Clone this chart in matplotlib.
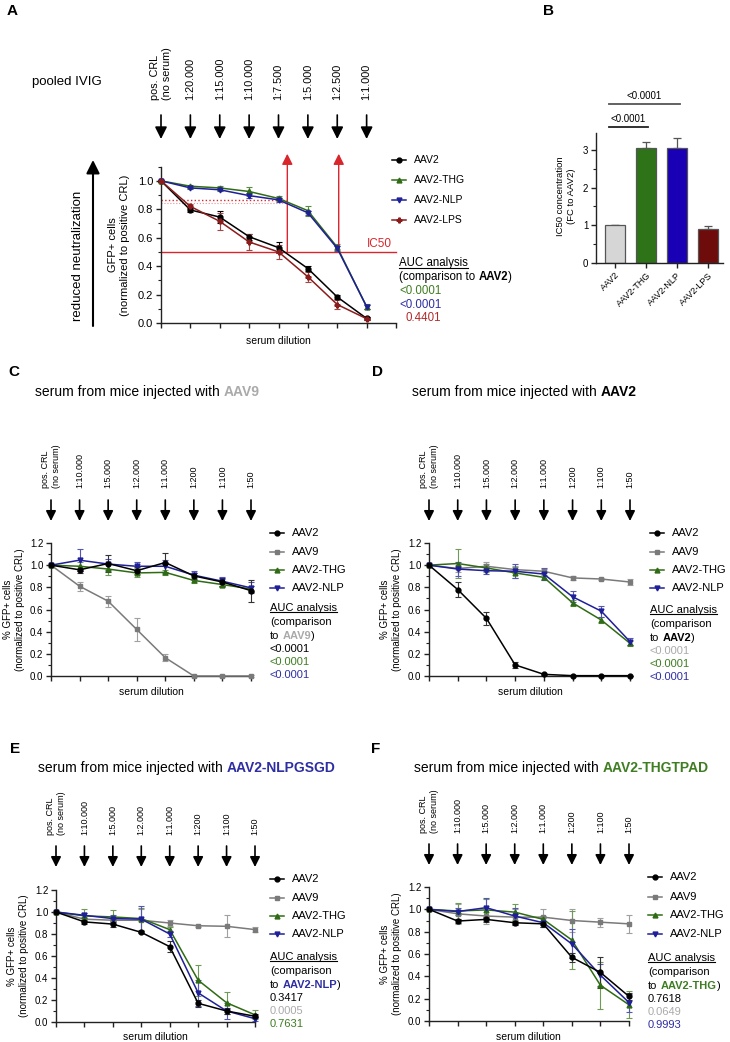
import matplotlib.pyplot as plt
import numpy as np
from matplotlib import transforms
from matplotlib.lines import Line2D
from matplotlib.text import Annotation
from matplotlib.ticker import MultipleLocator, FormatStrFormatter

plt.rcParams['font.family'] = ['Liberation Sans', 'DejaVu Sans']

W, H = 730, 1042

# ---------------- data ----------------
# panel A: pooled IVIG
dil_A = ["pos. CRL\n(no serum)", "1:20.000", "1:15.000", "1:10.000",
         "1:7.500", "1:5.000", "1:2.500", "1:1.000"]
A_AAV2 = [1.0, 0.795, 0.745, 0.607, 0.53, 0.383, 0.183, 0.032]
A_AAV2_err = [0.005, 0.012, 0.04, 0.02, 0.04, 0.02, 0.015, 0.008]
A_THG = [1.0, 0.962, 0.95, 0.925, 0.876, 0.79, 0.533, 0.115]
A_THG_err = [0.005, 0.01, 0.015, 0.03, 0.015, 0.035, 0.02, 0.02]
A_NLP = [1.0, 0.95, 0.937, 0.896, 0.866, 0.775, 0.525, 0.115]
A_NLP_err = [0.005, 0.01, 0.01, 0.015, 0.015, 0.015, 0.02, 0.015]
A_LPS = [1.0, 0.82, 0.715, 0.57, 0.50, 0.325, 0.13, 0.03]
A_LPS_err = [0.005, 0.02, 0.06, 0.055, 0.05, 0.035, 0.035, 0.01]
ic50 = 0.5
ic50_x = [4.3, 6.05]
ic50_ref = [0.868, 0.845]
A_auc = ["<0.0001", "<0.0001", "0.4401"]

# panel B: IC50 fold change
B_names = ["AAV2", "AAV2-THG", "AAV2-NLP", "AAV2-LPS"]
B_vals = [1.0, 3.05, 3.05, 0.91]
B_err = [0.0, 0.17, 0.27, 0.08]
B_p = ["<0.0001", "<0.0001"]

# panels C-F: mouse sera
dil_mice = ["pos. CRL\n(no serum)", "1:10.000", "1:5.000", "1:2.000",
            "1:1.000", "1:200", "1:100", "1:50"]

C_AAV2 = [1.0, 0.958, 1.015, 0.95, 1.024, 0.903, 0.848, 0.77]
C_AAV2_err = [0, 0.03, 0.08, 0.03, 0.09, 0.03, 0.04, 0.1]
C_AAV9 = [1.0, 0.81, 0.675, 0.42, 0.165, 0.0, 0.0, 0.0]
C_AAV9_err = [0, 0.04, 0.05, 0.1, 0.03, 0.005, 0.005, 0.005]
C_THG = [1.0, 0.99, 0.965, 0.93, 0.935, 0.862, 0.825, 0.785]
C_THG_err = [0, 0.04, 0.05, 0.04, 0.02, 0.02, 0.02, 0.03]
C_NLP = [1.0, 1.045, 1.01, 0.99, 0.99, 0.91, 0.855, 0.795]
C_NLP_err = [0, 0.1, 0.05, 0.04, 0.06, 0.04, 0.04, 0.05]
C_auc = ["<0.0001", "<0.0001", "<0.0001"]

D_AAV2 = [1.0, 0.78, 0.52, 0.10, 0.015, 0.003, 0.003, 0.003]
D_AAV2_err = [0, 0.065, 0.06, 0.025, 0.005, 0, 0, 0]
D_AAV9 = [1.0, 0.97, 0.99, 0.96, 0.945, 0.885, 0.875, 0.848]
D_AAV9_err = [0, 0.03, 0.04, 0.03, 0.02, 0.02, 0.01, 0.03]
D_THG = [1.0, 1.015, 0.975, 0.93, 0.89, 0.66, 0.505, 0.295]
D_THG_err = [0, 0.13, 0.04, 0.05, 0.02, 0.03, 0.03, 0.02]
D_NLP = [1.0, 0.965, 0.95, 0.945, 0.92, 0.715, 0.585, 0.31]
D_NLP_err = [0, 0.06, 0.03, 0.065, 0.05, 0.05, 0.05, 0.03]
D_auc = ["<0.0001", "<0.0001", "<0.0001"]

E_AAV2 = [1.0, 0.91, 0.89, 0.815, 0.685, 0.17, 0.10, 0.052]
E_AAV2_err = [0, 0.02, 0.03, 0.01, 0.05, 0.03, 0.03, 0.02]
E_AAV9 = [1.0, 0.935, 0.925, 0.925, 0.90, 0.875, 0.87, 0.84]
E_AAV9_err = [0, 0.02, 0.02, 0.1, 0.03, 0.01, 0.1, 0.02]
E_THG = [1.0, 0.965, 0.955, 0.94, 0.84, 0.38, 0.175, 0.065]
E_THG_err = [0, 0.06, 0.06, 0.1, 0.02, 0.14, 0.1, 0.04]
E_NLP = [1.0, 0.97, 0.94, 0.935, 0.80, 0.265, 0.10, 0.03]
E_NLP_err = [0, 0.02, 0.03, 0.12, 0.03, 0.12, 0.07, 0.02]
E_auc = ["0.3417", "0.0005", "0.7631"]

F_AAV2 = [1.0, 0.895, 0.91, 0.88, 0.87, 0.57, 0.435, 0.22]
F_AAV2_err = [0, 0.02, 0.02, 0.02, 0.03, 0.04, 0.14, 0.03]
F_AAV9 = [1.0, 0.96, 0.94, 0.93, 0.93, 0.90, 0.885, 0.87]
F_AAV9_err = [0, 0.09, 0.07, 0.07, 0.07, 0.1, 0.04, 0.08]
F_THG = [1.0, 0.985, 0.995, 0.975, 0.91, 0.725, 0.32, 0.145]
F_THG_err = [0, 0.07, 0.1, 0.07, 0.03, 0.26, 0.21, 0.12]
F_NLP = [1.0, 0.98, 1.015, 0.94, 0.88, 0.69, 0.41, 0.165]
F_NLP_err = [0, 0.03, 0.09, 0.07, 0.04, 0.13, 0.1, 0.08]
F_auc = ["0.7618", "0.0649", "0.9993"]

# colours
K = 'black'
GRAY = '#7a7a7a'
GREEN = '#2f6b14'
BLUE = '#1f1f99'
RED = '#8a1c1c'
ARED = '#d8262c'
T_GRAY = '#aaaaaa'
T_GREEN = '#3f7d22'
T_BLUE = '#2e2ea3'
T_RED = '#b22a2a'

fig = plt.figure(figsize=(W / 100, H / 100), dpi=100)


def fx(x):
    return x / W


def fy(y):
    return 1 - y / H


def px_ax(x0, y0, x1, y1):
    return fig.add_axes([fx(x0), fy(y1), (x1 - x0) / W, (y1 - y0) / H])


def style(ax, ymax, major, minor, fs, fmt='%.1f'):
    for s in ['top', 'right']:
        ax.spines[s].set_visible(False)
    for s in ['left', 'bottom']:
        ax.spines[s].set_linewidth(1.0)
        ax.spines[s].set_color('#222222')
    ax.set_ylim(0, ymax)
    ax.yaxis.set_major_locator(MultipleLocator(major))
    ax.yaxis.set_minor_locator(MultipleLocator(minor))
    ax.yaxis.set_major_formatter(FormatStrFormatter(fmt))
    ax.tick_params(axis='both', which='major', length=3.5, width=1.0,
                   labelsize=fs, pad=2, color='#222222')
    ax.tick_params(axis='y', which='minor', length=2, width=0.8, color='#222222')
    ax.patch.set_alpha(0)


def curves(ax, series):
    for y, e, c, m, ec in series:
        ax.errorbar(range(len(y)), y, yerr=e, color=c, marker=m, ms=3.5, lw=1.1,
                    elinewidth=0.8, ecolor=ec, capsize=2.2, capthick=0.8,
                    clip_on=False, zorder=3)


def header(ax, labels, ytxt, ya0, ya1, fs, ms=16):
    tr = transforms.blended_transform_factory(ax.transData, fig.transFigure)
    for i, lab in enumerate(labels):
        ax.text(i, fy(ytxt), lab, transform=tr, rotation=90, ha='center',
                va='bottom', fontsize=fs, multialignment='left', clip_on=False)
        ax.annotate('', xy=(i, fy(ya1)), xytext=(i, fy(ya0)), xycoords=tr,
                    textcoords=tr, annotation_clip=False,
                    arrowprops=dict(arrowstyle='-|>', color='k', lw=1.2,
                                    mutation_scale=ms, shrinkA=0, shrinkB=0))


def legend(x0, ys, entries, fs):
    for y, (lab, c, m) in zip(ys, entries):
        fig.add_artist(Line2D([fx(x0), fx(x0 + 14)], [fy(y), fy(y)], color=c, lw=1.1))
        fig.add_artist(Line2D([fx(x0 + 7)], [fy(y)], color=c, marker=m, ms=3.5, ls='none'))
        fig.text(fx(x0 + 22), fy(y), lab, fontsize=fs, va='center', ha='left')


def rich(x, y, parts, fs):
    s, c, w = parts[0]
    t = fig.text(fx(x), fy(y), s, color=c, fontweight=w, fontsize=fs, va='center', ha='left')
    first = t
    for s, c, w in parts[1:]:
        dx = 0.28 * fs if s.startswith(' ') else 0
        t = Annotation(s.lstrip(), xy=(1, 0), xycoords=t, xytext=(dx, 0),
                       textcoords='offset points', va='bottom', ha='left',
                       color=c, fontweight=w, fontsize=fs)
        fig.add_artist(t)
    return first


underlined = []

# ---------------- panel A ----------------
fig.text(fx(7), fy(11), "A", fontsize=11, fontweight='bold', va='center')
fig.text(fx(32), fy(82), "pooled IVIG", fontsize=9.5, va='center')
axA = px_ax(161, 166.6, 396, 323)
style(axA, 1.1, 0.2, 0.1, 8)
axA.set_xlim(0, 8)
axA.set_xticks(range(9))
axA.set_xticklabels([])
curves(axA, [(A_AAV2, A_AAV2_err, K, 'o', K),
             (A_THG, A_THG_err, GREEN, '^', '#5b8a45'),
             (A_NLP, A_NLP_err, BLUE, 'v', '#4d4db0'),
             (A_LPS, A_LPS_err, RED, 'P', '#a04848')])
axA.plot([0, 8], [ic50, ic50], color=ARED, lw=1.0, zorder=2, clip_on=False)
axA.plot([0, ic50_x[0]], [ic50_ref[0]] * 2, color=ARED, lw=1.0, ls=':', zorder=2)
axA.plot([0, ic50_x[0]], [ic50_ref[1]] * 2, color='#e89090', lw=0.8, ls=':', zorder=2)
for xv in ic50_x:
    axA.annotate('', xy=(xv, 1.19), xytext=(xv, ic50), annotation_clip=False,
                 arrowprops=dict(arrowstyle='-|>', color=ARED, lw=1.0,
                                 mutation_scale=16, shrinkA=0, shrinkB=0))
axA.text(7.45, ic50 + 0.015, "IC50", color=ARED, fontsize=8.5, ha='center', va='bottom')
header(axA, dil_A, 100, 115, 139, 7.8, ms=18)
fig.text(fx(119), fy(245), "GFP+ cells\n(normalized to positive CRL)", rotation=90,
         ha='center', va='center', fontsize=8, multialignment='center')
fig.text(fx(278), fy(341), "serum dilution", ha='center', va='center', fontsize=7.5)
fig.text(fx(78), fy(256), "reduced neutralization", rotation=90, ha='center',
         va='center', fontsize=9.5)
axA.annotate('', xy=(fx(93), fy(160)), xytext=(fx(93), fy(326)), xycoords='figure fraction',
             textcoords='figure fraction', annotation_clip=False,
             arrowprops=dict(arrowstyle='-|>', color='k', lw=1.5, mutation_scale=20,
                             shrinkA=0, shrinkB=0))
legend(392, [160, 180, 200, 220], [("AAV2", K, 'o'), ("AAV2-THG", GREEN, '^'),
                                   ("AAV2-NLP", BLUE, 'v'), ("AAV2-LPS", RED, 'P')], 7.5)
underlined.append(fig.text(fx(399), fy(263), "AUC analysis", fontsize=8.3, va='center'))
rich(399, 277, [("(comparison to", K, 'normal'), (" AAV2", K, 'bold'), (")", K, 'normal')], 8.3)
for y, s, c, dx in zip([291, 305, 318], A_auc, [T_GREEN, T_BLUE, T_RED], [0, 0, 6]):
    fig.text(fx(399 + dx), fy(y), s, color=c, fontsize=8.3, va='center')

# ---------------- panel B ----------------
fig.text(fx(543), fy(11), "B", fontsize=11, fontweight='bold', va='center')
axB = px_ax(596, 133, 723, 263)
style(axB, 3.45, 1, 0.5, 7, fmt='%d')
axB.set_xlim(-0.62, 3.5)
xb = np.arange(len(B_vals))
axB.bar(xb, B_vals, width=0.65, color=['#d6d6d6', '#2e7317', '#1a00b5', '#6e0c0c'],
        edgecolor='#555555', lw=0.9, zorder=2)
axB.errorbar(xb, B_vals, yerr=[np.zeros(len(B_err)), B_err], fmt='none',
             ecolor='#555555', elinewidth=0.9, capsize=3, capthick=0.9, zorder=1)
axB.set_xticks(xb)
axB.set_xticklabels(B_names, rotation=45, ha='right', rotation_mode='anchor', fontsize=6.5)
axB.plot([-0.2, 2.1], [4.22, 4.22], color='#555555', lw=1.3, clip_on=False)
axB.text(0.95, 4.3, B_p[0], ha='center', va='bottom', fontsize=7)
axB.plot([-0.2, 1.06], [3.61, 3.61], color='#222222', lw=1.3, clip_on=False)
axB.text(0.43, 3.69, B_p[1], ha='center', va='bottom', fontsize=7)
fig.text(fx(566), fy(196), "IC50 concentration\n(FC to AAV2)", rotation=90, ha='center',
         va='center', fontsize=6.8, multialignment='center')

# ---------------- panels C-F ----------------
legend_entries = [("AAV2", K, 'o'), ("AAV9", GRAY, 's'),
                  ("AAV2-THG", GREEN, '^'), ("AAV2-NLP", BLUE, 'v')]

panels = [
    dict(letter="C", lx=8, ly=372, title=("AAV9", T_GRAY), tx=35, ty=392,
         ax=(51, 543, 251, 676), ytxt=488, ya=(500, 521), ylab=14,
         xlab=(151, 692), leg=270, legy=[533, 552, 570, 588], auc_y=608,
         ref=[("to", K, 'normal'), (" AAV9", T_GRAY, 'bold'), (")", K, 'normal')],
         pv=C_auc, pc=[K, T_GREEN, T_BLUE],
         data=[(C_AAV2, C_AAV2_err), (C_AAV9, C_AAV9_err), (C_THG, C_THG_err), (C_NLP, C_NLP_err)]),
    dict(letter="D", lx=372, ly=372, title=("AAV2", K), tx=412, ty=392,
         ax=(429, 543, 630, 676), ytxt=488, ya=(500, 521), ylab=391,
         xlab=(530, 692), leg=650, legy=[533, 552, 570, 588], auc_y=610,
         ref=[("to", K, 'normal'), (" AAV2", K, 'bold'), (")", K, 'normal')],
         pv=D_auc, pc=[T_GRAY, T_GREEN, T_BLUE],
         data=[(D_AAV2, D_AAV2_err), (D_AAV9, D_AAV9_err), (D_THG, D_THG_err), (D_NLP, D_NLP_err)]),
    dict(letter="E", lx=10, ly=749, title=("AAV2-NLPGSGD", T_BLUE), tx=38, ty=768,
         ax=(56, 890, 255, 1022), ytxt=835, ya=(846, 867), ylab=18,
         xlab=(155, 1037), leg=270, legy=[879, 898, 916, 934], auc_y=957,
         ref=[("to", K, 'normal'), (" AAV2-NLP", T_BLUE, 'bold'), (")", K, 'normal')],
         pv=E_auc, pc=[K, T_GRAY, T_GREEN],
         data=[(E_AAV2, E_AAV2_err), (E_AAV9, E_AAV9_err), (E_THG, E_THG_err), (E_NLP, E_NLP_err)]),
    dict(letter="F", lx=371, ly=749, title=("AAV2-THGTPAD", T_GREEN), tx=414, ty=768,
         ax=(429, 887, 629, 1021), ytxt=833, ya=(844, 865), ylab=391,
         xlab=(528, 1037), leg=648, legy=[877, 897, 915, 934], auc_y=958,
         ref=[("to", K, 'normal'), (" AAV2-THG", T_GREEN, 'bold'), (")", K, 'normal')],
         pv=F_auc, pc=[K, T_GRAY, T_BLUE],
         data=[(F_AAV2, F_AAV2_err), (F_AAV9, F_AAV9_err), (F_THG, F_THG_err), (F_NLP, F_NLP_err)]),
]

for p in panels:
    fig.text(fx(p['lx']), fy(p['ly']), p['letter'], fontsize=11, fontweight='bold', va='center')
    rich(p['tx'], p['ty'], [("serum from mice injected with", K, 'normal'),
                            (" " + p['title'][0], p['title'][1], 'bold')], 10)
    ax = px_ax(*p['ax'])
    style(ax, 1.2, 0.2, 0.1, 7)
    ax.set_xlim(0, 7)
    ax.set_xticks(range(8))
    ax.set_xticklabels([])
    (a2, a2e), (a9, a9e), (th, the), (nl, nle) = p['data']
    curves(ax, [(a9, a9e, GRAY, 's', '#a0a0a0'),
                (th, the, GREEN, '^', '#6f9a5a'),
                (nl, nle, BLUE, 'v', '#5555b5'),
                (a2, a2e, K, 'o', '#333333')])
    header(ax, dil_mice, p['ytxt'], p['ya'][0], p['ya'][1], 6.5, ms=15)
    y0, y1 = p['ax'][1], p['ax'][3]
    fig.text(fx(p['ylab']), fy((y0 + y1) / 2), "% GFP+ cells\n(normalized to positive CRL)",
             rotation=90, ha='center', va='center', fontsize=7, multialignment='center')
    fig.text(fx(p['xlab'][0]), fy(p['xlab'][1]), "serum dilution", ha='center',
             va='center', fontsize=7.5)
    legend(p['leg'], p['legy'], legend_entries, 8)
    ya = p['auc_y']
    underlined.append(fig.text(fx(p['leg']), fy(ya), "AUC analysis", fontsize=8, va='center'))
    fig.text(fx(p['leg']), fy(ya + 14), "(comparison", fontsize=8, va='center')
    rich(p['leg'], ya + 28, p['ref'], 8)
    for i, (s, c) in enumerate(zip(p['pv'], p['pc'])):
        fig.text(fx(p['leg']), fy(ya + 41 + 13 * i), s, color=c, fontsize=8, va='center')

# underline the "AUC analysis" headings
fig.canvas.draw()
for t in underlined:
    bb = t.get_window_extent()
    yl = (bb.y0 + 1.0) / H
    fig.add_artist(Line2D([bb.x0 / W, bb.x1 / W], [yl, yl], color=t.get_color(), lw=0.8))

fig.savefig("out.png", dpi=100)
